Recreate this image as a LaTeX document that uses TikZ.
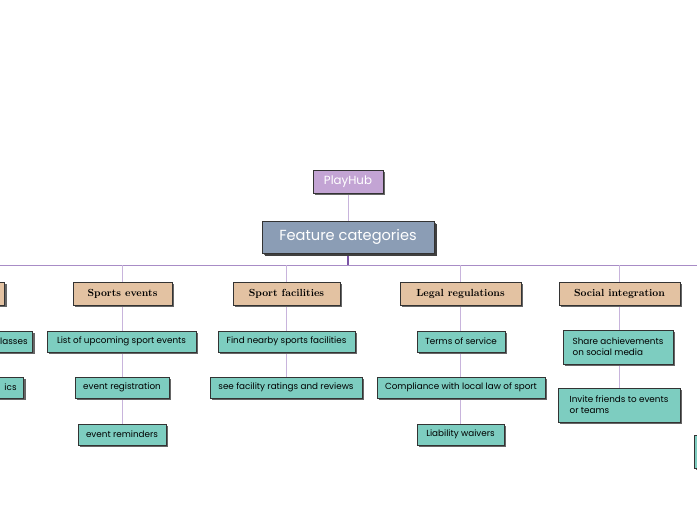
\documentclass[tikz,border=0pt]{standalone}
\usepackage{fontspec}
\setsansfont{Poppins}
\usetikzlibrary{shadows,backgrounds}
\definecolor{tanc}{HTML}{E3C2A2}
\definecolor{tealc}{HTML}{7DCDC0}
\definecolor{slatec}{HTML}{8B9DB5}
\definecolor{lavc}{HTML}{C3A4D4}
\definecolor{linec}{HTML}{C8B4DC}
\definecolor{busc}{HTML}{A88CC6}
\definecolor{darkline}{HTML}{7B55A6}
\definecolor{bordc}{HTML}{333333}
\tikzset{
  boxbase/.style={draw=bordc, line width=0.8pt, inner sep=0pt,
    drop shadow={shadow xshift=2pt, shadow yshift=-2pt, fill=black!60, opacity=1}},
  rootbox/.style={boxbase, fill=lavc, text=white, font=\sffamily\fontsize{11.8}{14}\selectfont,
    minimum width=70, minimum height=23},
  mainbox/.style={boxbase, fill=slatec, text=white, font=\sffamily\fontsize{14.6}{17}\selectfont,
    minimum width=172, minimum height=32,
    drop shadow={shadow xshift=3pt, shadow yshift=-3pt, fill=black!75, opacity=1}},
  catbox/.style={boxbase, fill=tanc, font=\rmfamily\bfseries\fontsize{10.3}{12}\selectfont,
    minimum height=23},
  itembox/.style={boxbase, fill=tealc, font=\sffamily\fontsize{8.8}{10}\selectfont,
    minimum height=21},
  itemtwo/.style={boxbase, fill=tealc, font=\sffamily\fontsize{8.8}{11}\selectfont,
    minimum height=34, align=left, inner xsep=8pt},
  conn/.style={draw=linec, line width=0.8pt},
}
\begin{document}
\begin{tikzpicture}[x=1pt,y=-1pt]
\useasboundingbox (0,0) rectangle (697,520);

\node[rootbox] (ph) at (348,181.5) {PlayHub};
\node[mainbox] (fc) at (348,237) {Feature categories};

\coordinate (busL) at (0,265);
\coordinate (busR) at (697,265);

% categories
\node[catbox, minimum width=40, anchor=east] (c0) at (5,293.5) {};
\node[catbox, minimum width=99] (c1) at (122.5,293.5) {Sports events};
\node[catbox, minimum width=107] (c2) at (286.5,293.5) {Sport facilities};
\node[catbox, minimum width=121] (c3) at (460.5,293.5) {Legal regulations};
\node[catbox, minimum width=121] (c4) at (619.5,293.5) {Social integration};

% left cut-off items
\node[itembox, anchor=east] (l1) at (33,341.5) {\hspace*{30pt}lasses\hspace*{5pt}};
\node[itembox, anchor=east] (l2) at (24,387.5) {\hspace*{30pt}ics\hspace*{7pt}};

% sports events
\node[itembox, minimum width=149] (s1) at (121.5,341.5) {List of upcoming sport events};
\node[itembox, minimum width=94] (s2) at (122,387.5) {event registration};
\node[itembox, minimum width=88] (s3) at (122,434.5) {event reminders};

% sport facilities
\node[itembox, minimum width=137] (f1) at (286.5,341.5) {Find nearby sports facilities};
\node[itembox, minimum width=152] (f2) at (286,387.5) {see facility ratings and reviews};

% legal
\node[itembox, minimum width=88] (g1) at (461,341.5) {Terms of service};
\node[itembox, minimum width=168] (g2) at (461,387.5) {Compliance with local law of sport};
\node[itembox, minimum width=87] (g3) at (460.5,434.5) {Liability waivers};

% social
\node[itemtwo, minimum width=110] (o1) at (618,347) {Share achievements\\on social media};
\node[itemtwo, minimum width=122] (o2) at (619,405) {Invite friends to events\\or teams};

% right cut-off
\node[itembox, minimum width=20, minimum height=33, anchor=west] (r1) at (694,451.5) {};

\begin{scope}[on background layer]
\fill[white] (0,0) rectangle (697,520);
\draw[conn] (ph.south) -- (fc.north);
\draw[draw=busc, line width=0.9pt] (busL) -- (busR);
\draw[draw=darkline, line width=1.4pt] (fc.south) -- (fc.south |- busL);
\foreach \c in {c1,c2,c3,c4}{
  \draw[conn] (\c.north) -- (\c.north |- busL);
}
\draw[conn] (c1.south) -- (c1.south |- s1.north);
\draw[conn] (c1.south |- s1.south) -- (c1.south |- s2.north);
\draw[conn] (c1.south |- s2.south) -- (c1.south |- s3.north);
\draw[conn] (c2.south) -- (c2.south |- f1.north);
\draw[conn] (c2.south |- f1.south) -- (c2.south |- f2.north);
\draw[conn] (c3.south) -- (c3.south |- g1.north);
\draw[conn] (c3.south |- g1.south) -- (c3.south |- g2.north);
\draw[conn] (c3.south |- g2.south) -- (c3.south |- g3.north);
\draw[conn] (c4.south) -- (c4.south |- o1.north);
\draw[conn] (c4.south |- o1.south) -- (c4.south |- o2.north);
\end{scope}
\end{tikzpicture}
\end{document}
